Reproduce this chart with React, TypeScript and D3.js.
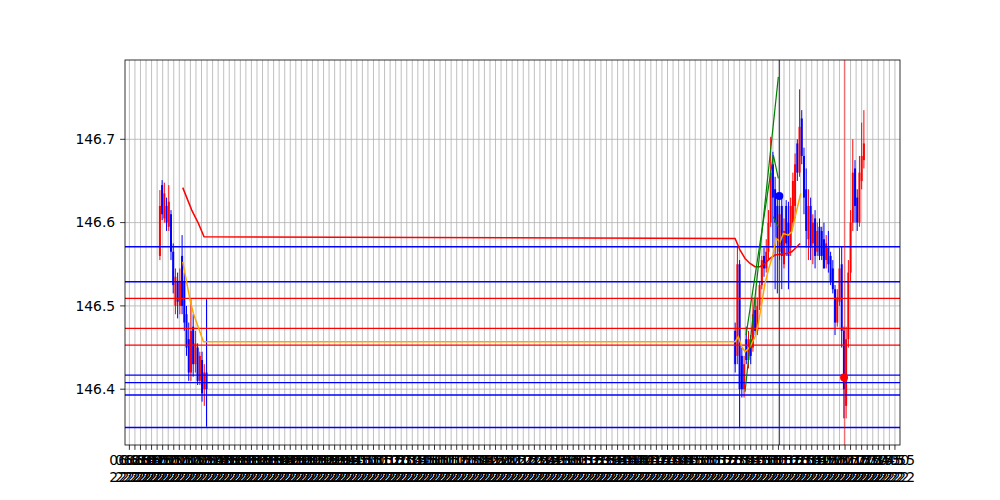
import React from 'react';
import * as d3 from 'd3';

const W = 1000;
const H = 500;
const plot = { left: 125, right: 900, top: 60, bottom: 445 };

// y axis
const yTicks = [146.4, 146.5, 146.6, 146.7];
const yDomain = [146.333, 146.7952];

// x axis: minutes from the first tick, one tick every 5 minutes
const xDomain = [-3.95, 694.55];
const tickMinutes = d3.range(0, 691, 5);
const tickTimes = tickMinutes.map((m) => {
  const t = 6 * 60 + 25 + m;
  return `${String(Math.floor(t / 60)).padStart(2, '0')}:${String(t % 60).padStart(2, '0')}`;
});
const tickDates = tickMinutes.map(() => '22:22');

// first session, 2-minute bars
const s1Start = 27.5;
const s1Open = [146.56, 146.645, 146.605, 146.62, 146.595, 146.61, 146.565, 146.5, 146.53, 146.5, 146.56, 146.53, 146.49, 146.46, 146.42, 146.475, 146.43, 146.45, 146.41, 146.435, 146.4, 146.42];
const s1Close = [146.62, 146.61, 146.635, 146.6, 146.625, 146.565, 146.525, 146.535, 146.505, 146.53, 146.5, 146.48, 146.45, 146.42, 146.47, 146.43, 146.455, 146.41, 146.44, 146.395, 146.42, 146.4];
const s1High = [146.639, 146.651, 146.648, 146.63, 146.645, 146.615, 146.575, 146.545, 146.54, 146.545, 146.585, 146.54, 146.5, 146.48, 146.508, 146.49, 146.47, 146.455, 146.445, 146.445, 146.43, 146.508];
const s1Low = [146.555, 146.603, 146.6, 146.59, 146.59, 146.555, 146.515, 146.49, 146.485, 146.49, 146.49, 146.47, 146.44, 146.41, 146.41, 146.415, 146.42, 146.405, 146.405, 146.385, 146.38, 146.355];

// second session, 2-minute bars
const s2Start = 546;
const s2Open = [146.47, 146.44, 146.55, 146.44, 146.4, 146.46, 146.435, 146.46, 146.45, 146.495, 146.47, 146.5, 146.525, 146.56, 146.545, 146.565, 146.6, 146.67, 146.64, 146.62, 146.565, 146.62, 146.55, 146.62, 146.6, 146.57, 146.6, 146.62, 146.695, 146.66, 146.725, 146.68, 146.64, 146.58, 146.62, 146.575, 146.605, 146.565, 146.595, 146.59, 146.58, 146.555, 146.57, 146.56, 146.545, 146.52, 146.48, 146.505, 146.55, 146.47, 146.38, 146.46, 146.54, 146.6, 146.665, 146.63, 146.6, 146.65, 146.675];
const s2Close = [146.43, 146.55, 146.4, 146.4, 146.43, 146.435, 146.46, 146.44, 146.49, 146.47, 146.5, 146.525, 146.555, 146.545, 146.565, 146.6, 146.66, 146.63, 146.6, 146.58, 146.61, 146.56, 146.59, 146.575, 146.56, 146.62, 146.65, 146.67, 146.66, 146.715, 146.68, 146.63, 146.59, 146.62, 146.57, 146.6, 146.56, 146.59, 146.56, 146.56, 146.545, 146.575, 146.55, 146.53, 146.52, 146.48, 146.51, 146.545, 146.47, 146.4, 146.46, 146.54, 146.6, 146.66, 146.62, 146.6, 146.66, 146.68, 146.695];
const s2High = [146.48, 146.571, 146.555, 146.45, 146.44, 146.475, 146.47, 146.465, 146.51, 146.51, 146.51, 146.53, 146.56, 146.57, 146.58, 146.615, 146.703, 146.685, 146.655, 146.63, 146.62, 146.63, 146.605, 146.627, 146.625, 146.63, 146.66, 146.683, 146.7, 146.76, 146.735, 146.69, 146.665, 146.64, 146.63, 146.61, 146.615, 146.6, 146.605, 146.595, 146.6, 146.585, 146.59, 146.565, 146.555, 146.525, 146.52, 146.57, 146.571, 146.475, 146.475, 146.555, 146.615, 146.7, 146.675, 146.64, 146.68, 146.72, 146.735];
const s2Low = [146.42, 146.43, 146.354, 146.39, 146.39, 146.43, 146.425, 146.43, 146.445, 146.465, 146.465, 146.495, 146.52, 146.535, 146.54, 146.555, 146.595, 146.57, 146.52, 146.515, 146.555, 146.52, 146.545, 146.56, 146.52, 146.56, 146.595, 146.605, 146.65, 146.655, 146.67, 146.61, 146.57, 146.555, 146.555, 146.55, 146.545, 146.56, 146.555, 146.555, 146.545, 146.545, 146.54, 146.525, 146.515, 146.465, 146.475, 146.5, 146.45, 146.365, 146.365, 146.45, 146.53, 146.59, 146.6, 146.59, 146.595, 146.64, 146.665];

// moving averages
const redMaTime = [48.1, 56.2, 62.2, 67.3, 545.9, 550.4, 554.9, 559.4, 563.9, 568.4, 572.9, 577.4, 581.9, 586.5, 592.5, 597.0, 600.9, 604.5];
const redMaValue = [146.642, 146.615, 146.599, 146.583, 146.581, 146.567, 146.557, 146.551, 146.547, 146.547, 146.551, 146.557, 146.561, 146.562, 146.563, 146.565, 146.57, 146.575];
const orangeMaTime = [48.1, 54.7, 57.7, 66.7, 545.9, 548.9, 551.9, 554.9, 559.4, 563.9, 566.9, 569.9, 572.9, 575.9, 580.4, 582.8, 586.5, 589.4, 593.9, 597.0, 600.0, 605.1];
const orangeMaValue = [146.553, 146.507, 146.491, 146.457, 146.457, 146.463, 146.451, 146.445, 146.451, 146.463, 146.479, 146.503, 146.527, 146.543, 146.563, 146.581, 146.577, 146.587, 146.585, 146.589, 146.607, 146.635];

// trend lines
const greenLines = [
  [[554.9, 146.397], [584.9, 146.775]],
  [[555.8, 146.465], [580.4, 146.681], [584.9, 146.653]],
  [[580.4, 146.607], [584.9, 146.595]],
];

// levels
const blueLevels = [146.571, 146.529, 146.417, 146.408, 146.393, 146.354];
const redLevels = [146.509, 146.473, 146.453];
const blueMarkTime = 586.0;
const redMarkTime = 644.4;
const bluePoint = [585.8, 146.632];
const redPoint = [644.1, 146.414];

const font = 'DejaVu Sans';
const fs = 13.9;

function buildCandles(start, open, close, high, low) {
  return open.map((o, i) => ({
    t: start + 2 * i,
    o,
    c: close[i],
    h: high[i],
    l: low[i],
  }));
}

export default function App() {
  const x = d3.scaleLinear().domain(xDomain).range([plot.left, plot.right]);
  const y = d3.scaleLinear().domain(yDomain).range([plot.bottom, plot.top]);

  const candles = [
    ...buildCandles(s1Start, s1Open, s1Close, s1High, s1Low),
    ...buildCandles(s2Start, s2Open, s2Close, s2High, s2Low),
  ];

  const lineGen = d3
    .line()
    .x((d) => x(d[0]))
    .y((d) => y(d[1]));

  const redMa = redMaTime.map((t, i) => [t, redMaValue[i]]);
  const orangeMa = orangeMaTime.map((t, i) => [t, orangeMaValue[i]]);

  return (
    <svg
      width={W}
      height={H}
      style={{ position: 'absolute', left: 0, top: 0, background: '#fff' }}
      fontFamily={font}
    >
      <rect width={W} height={H} fill="#fff" />
      {/* grid */}
      <g stroke="#b0b0b0" strokeWidth={0.8}>
        {tickMinutes.map((m) => (
          <line key={'gx' + m} x1={x(m)} x2={x(m)} y1={plot.top} y2={plot.bottom} />
        ))}
        {yTicks.map((v) => (
          <line key={'gy' + v} x1={plot.left} x2={plot.right} y1={y(v)} y2={y(v)} />
        ))}
      </g>

      {/* candles */}
      <g>
        {candles.map((d, i) => {
          const col = d.c >= d.o ? '#ff0000' : '#0000ff';
          const top = y(Math.max(d.o, d.c));
          const bot = y(Math.min(d.o, d.c));
          return (
            <g key={'c' + i}>
              <line x1={x(d.t)} x2={x(d.t)} y1={y(d.h)} y2={y(d.l)} stroke={col} strokeWidth={1} />
              <rect x={x(d.t) - 1} width={2} y={top} height={Math.max(bot - top, 1)} fill={col} />
            </g>
          );
        })}
      </g>

      {/* levels */}
      <g strokeWidth={1.3}>
        {blueLevels.map((v) => (
          <line key={'b' + v} x1={plot.left} x2={plot.right} y1={y(v)} y2={y(v)} stroke="#0000ff" />
        ))}
        {redLevels.map((v) => (
          <line key={'r' + v} x1={plot.left} x2={plot.right} y1={y(v)} y2={y(v)} stroke="#ff0000" />
        ))}
      </g>

      {/* moving averages */}
      <path d={lineGen(redMa)} fill="none" stroke="#ff0000" strokeWidth={1.5} />
      <path d={lineGen(orangeMa)} fill="none" stroke="#ffa500" strokeWidth={1.5} />

      {/* trend lines */}
      {greenLines.map((seg, i) => (
        <path key={'g' + i} d={lineGen(seg)} fill="none" stroke="#008000" strokeWidth={1.2} />
      ))}

      {/* markers */}
      <line x1={x(blueMarkTime)} x2={x(blueMarkTime)} y1={plot.top} y2={plot.bottom} stroke="#0000ff" strokeWidth={0.8} />
      <line x1={x(redMarkTime)} x2={x(redMarkTime)} y1={plot.top} y2={plot.bottom} stroke="#ff0000" strokeWidth={0.6} />
      <circle cx={x(bluePoint[0])} cy={y(bluePoint[1])} r={4} fill="#0000ff" />
      <circle cx={x(redPoint[0])} cy={y(redPoint[1])} r={4} fill="#ff0000" />

      {/* spines */}
      <rect
        x={plot.left}
        y={plot.top}
        width={plot.right - plot.left}
        height={plot.bottom - plot.top}
        fill="none"
        stroke="#000"
        strokeWidth={0.8}
      />

      {/* x ticks */}
      <g>
        {tickMinutes.map((m, i) => (
          <g key={'xt' + m} transform={`translate(${x(m)},${plot.bottom})`}>
            <line y1={0} y2={4.9} stroke="#000" strokeWidth={0.8} />
            <text y={9.8} dy="0.76em" textAnchor="middle" fontSize={fs} fill="#000">
              <tspan x={0}>{tickTimes[i]}</tspan>
              <tspan x={0} dy={16.2}>{tickDates[i]}</tspan>
            </text>
          </g>
        ))}
      </g>

      {/* y ticks */}
      <g>
        {yTicks.map((v) => (
          <g key={'yt' + v} transform={`translate(${plot.left},${y(v)})`}>
            <line x1={0} x2={-4.9} stroke="#000" strokeWidth={0.8} />
            <text x={-9.8} dy="0.35em" textAnchor="end" fontSize={fs} fill="#000">
              {v.toFixed(1)}
            </text>
          </g>
        ))}
      </g>
    </svg>
  );
}
